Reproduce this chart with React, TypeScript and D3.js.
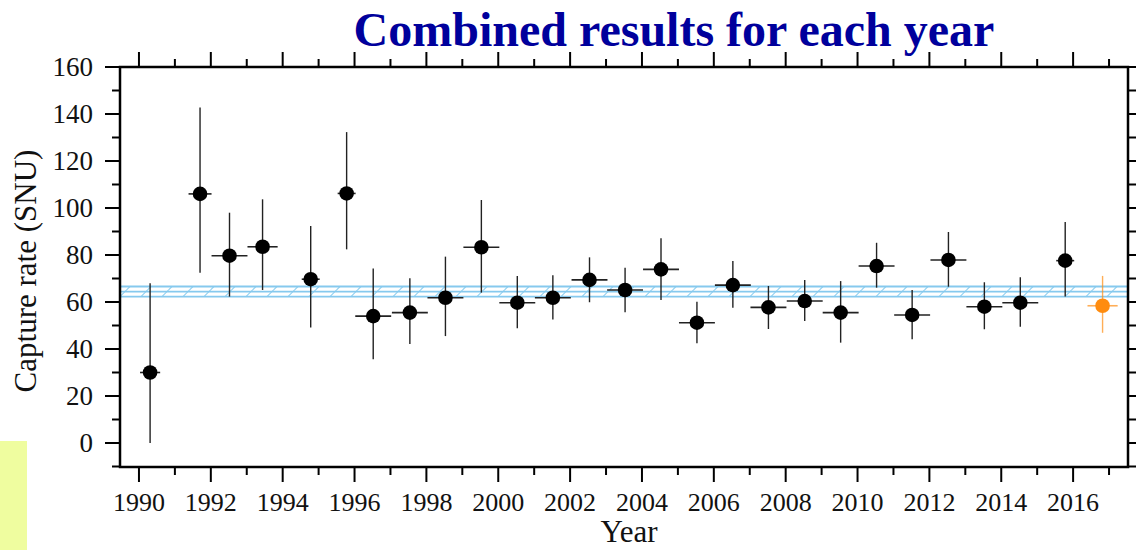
import * as d3 from "d3";
import React from "react";

// run-averaged time of each yearly combination (decimal year)
const runTime = [
  1990.31, 1991.7, 1992.52, 1993.44, 1994.78, 1995.78, 1996.52, 1997.54, 1998.53,
  1999.53, 2000.53, 2001.52, 2002.54, 2003.53, 2004.53, 2005.53, 2006.53, 2007.52,
  2008.53, 2009.53, 2010.53, 2011.52, 2012.53, 2013.53, 2014.53, 2015.78,
];
// half width of the time interval (years)
const timeHalf = [
  0.28, 0.32, 0.5, 0.42, 0.25, 0.25, 0.5, 0.5, 0.5, 0.5, 0.5, 0.5, 0.5, 0.5, 0.5, 0.5,
  0.5, 0.5, 0.5, 0.5, 0.5, 0.5, 0.5, 0.5, 0.5, 0.25,
];
const rate = [
  30, 106, 79.7, 83.5, 69.7, 106.2, 54, 55.5, 61.8, 83.3, 59.7, 61.8, 69.4, 65.1, 73.9,
  51.2, 67.2, 57.7, 60.4, 55.5, 75.3, 54.5, 77.9, 58, 59.7, 77.6,
];
const rateHigh = [
  68, 142.8, 98, 103.7, 92.3, 132.3, 74.3, 70.1, 79.3, 103.4, 71.1, 71.4, 79, 74.6, 87.1,
  60.1, 77.4, 66.8, 69.4, 68.9, 85.2, 65.1, 89.8, 68.4, 70.5, 94,
];
const rateLow = [
  0, 72.5, 62.3, 65.1, 49.2, 82.4, 35.6, 42.1, 45.5, 64, 48.8, 52.6, 59.9, 55.6, 60.9,
  42.4, 57.6, 48.5, 51.9, 42.7, 66.1, 44.1, 66.5, 48.4, 49.5, 62.3,
];

// latest (preliminary) point, drawn in orange
const newTime = [2016.82];
const newHalf = [0.42];
const newRate = [58.4];
const newHigh = [71.1];
const newLow = [46.9];

// combined average band
const bandLow = 62.3;
const bandMid = 64.4;
const bandHigh = 66.6;

const yTicks = [0, 20, 40, 60, 80, 100, 120, 140, 160];
const yMinor = [-10, 10, 30, 50, 70, 90, 110, 130, 150];
const xMajor = d3.range(1990, 2017, 2);
const xMinor = d3.range(1991, 2018, 2);

const W = 1136;
const H = 550;
const left = 120;
const right = 1128;
const top = 67;
const bottom = 467;
const serif = "'Liberation Serif', 'Times New Roman', serif";

export default function App() {
  const x = d3.scaleLinear().domain([1989.5, 2017.5]).range([left + 1, right - 1]);
  const y = d3.scaleLinear().domain([0, 160]).range([443, top]);

  const pts = runTime.map((t, i) => ({
    t,
    h: timeHalf[i],
    v: rate[i],
    hi: rateHigh[i],
    lo: rateLow[i],
  }));
  const newPts = newTime.map((t, i) => ({
    t,
    h: newHalf[i],
    v: newRate[i],
    hi: newHigh[i],
    lo: newLow[i],
  }));

  const orange = "#ff8c0f";
  const txt = { fontFamily: serif };

  return (
    <svg
      width={W}
      height={H}
      style={{ position: "absolute", left: 0, top: 0, background: "#fff" }}
    >
      <defs>
        <pattern id="hatch" patternUnits="userSpaceOnUse" width={21} height={H}>
          <line x1={-6} y1={y(bandLow)} x2={4} y2={y(bandHigh)} stroke="#8fd0f0" strokeWidth={1.1} />
          <line x1={15} y1={y(bandLow)} x2={25} y2={y(bandHigh)} stroke="#8fd0f0" strokeWidth={1.1} />
        </pattern>
        <clipPath id="plot">
          <rect x={left} y={top} width={right - left} height={bottom - top} />
        </clipPath>
      </defs>

      <rect x={0} y={441} width={27} height={109} fill="#effd9f" />

      <text
        x={674}
        y={46}
        textAnchor="middle"
        fontWeight="bold"
        fontSize={48}
        fill="#00009c"
        style={txt}
      >
        Combined results for each year
      </text>

      {/* band */}
      <g clipPath="url(#plot)">
        <rect
          x={left}
          y={y(bandHigh)}
          width={right - left}
          height={y(bandLow) - y(bandHigh)}
          fill="url(#hatch)"
        />
        {[bandLow, bandMid, bandHigh].map((b) => (
          <line key={b} x1={left} x2={right} y1={y(b)} y2={y(b)} stroke="#86c9ee" strokeWidth={1.8} />
        ))}
      </g>

      {/* data points */}
      <g>
        {pts.map((d, i) => (
          <g key={i}>
            <line x1={x(d.t)} x2={x(d.t)} y1={y(d.hi)} y2={y(d.lo)} stroke="#222" strokeWidth={1.4} />
            <line x1={x(d.t - d.h)} x2={x(d.t + d.h)} y1={y(d.v)} y2={y(d.v)} stroke="#222" strokeWidth={1.6} />
            <circle cx={x(d.t)} cy={y(d.v)} r={7.3} fill="#000" />
          </g>
        ))}
        {newPts.map((d, i) => (
          <g key={"n" + i}>
            <line x1={x(d.t)} x2={x(d.t)} y1={y(d.hi)} y2={y(d.lo)} stroke={orange} strokeOpacity={0.7} strokeWidth={1.4} />
            <line x1={x(d.t - d.h)} x2={x(d.t + d.h)} y1={y(d.v)} y2={y(d.v)} stroke={orange} strokeOpacity={0.7} strokeWidth={1.6} />
            <circle cx={x(d.t)} cy={y(d.v)} r={7.3} fill={orange} />
          </g>
        ))}
      </g>

      {/* frame */}
      <rect x={left} y={top} width={right - left} height={bottom - top} fill="none" stroke="#000" strokeWidth={2.5} />

      {/* y ticks left & right */}
      {yTicks.map((v) => (
        <g key={"y" + v}>
          <line x1={left - 15} x2={left} y1={y(v)} y2={y(v)} stroke="#000" strokeWidth={2} />
          <line x1={right} x2={right + 15} y1={y(v)} y2={y(v)} stroke="#000" strokeWidth={2} />
          <text x={93} y={y(v)} dy="0.35em" textAnchor="end" fontSize={27} fill="#111" style={txt}>
            {v}
          </text>
        </g>
      ))}
      {yMinor.map((v) => (
        <g key={"ym" + v}>
          <line x1={left - 8} x2={left} y1={y(v)} y2={y(v)} stroke="#000" strokeWidth={2} />
          <line x1={right} x2={right + 8} y1={y(v)} y2={y(v)} stroke="#000" strokeWidth={2} />
        </g>
      ))}

      {/* x ticks bottom & top */}
      {xMajor.map((t) => (
        <g key={"x" + t}>
          <line x1={x(t)} x2={x(t)} y1={bottom} y2={bottom + 15} stroke="#000" strokeWidth={2} />
          <line x1={x(t)} x2={x(t)} y1={top - 15} y2={top} stroke="#000" strokeWidth={2} />
          <text x={x(t)} y={511} textAnchor="middle" fontSize={26} fill="#111" style={txt}>
            {t}
          </text>
        </g>
      ))}
      {xMinor.map((t) => (
        <g key={"xm" + t}>
          <line x1={x(t)} x2={x(t)} y1={bottom} y2={bottom + 8} stroke="#000" strokeWidth={2} />
          <line x1={x(t)} x2={x(t)} y1={top - 8} y2={top} stroke="#000" strokeWidth={2} />
        </g>
      ))}

      <text x={629} y={542} textAnchor="middle" fontSize={31} fill="#111" style={txt}>
        Year
      </text>
      <text
        transform="translate(36,271) rotate(-90)"
        textAnchor="middle"
        fontSize={31}
        fill="#111"
        style={txt}
      >
        Capture rate (SNU)
      </text>
    </svg>
  );
}
